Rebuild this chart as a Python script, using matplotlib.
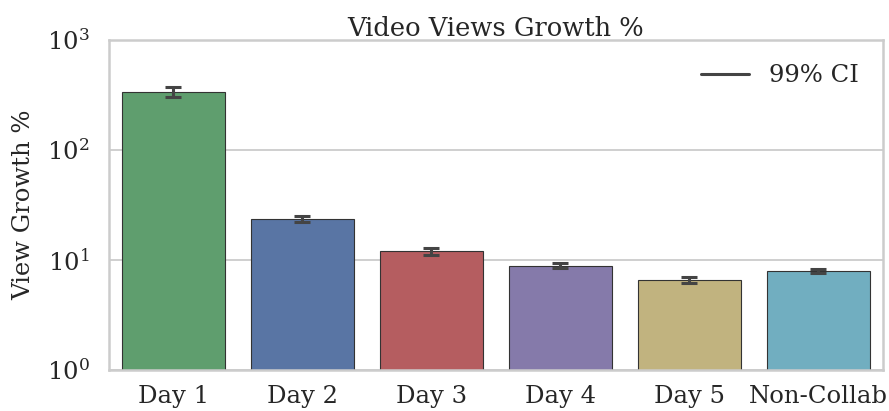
import matplotlib
matplotlib.use("Agg")
import matplotlib.pyplot as plt
import seaborn as sns
import numpy as np
from matplotlib.lines import Line2D

categories = ["Day 1", "Day 2", "Day 3", "Day 4", "Day 5", "Non-Collab"]
growth = [337, 23.5, 12.0, 8.9, 6.6, 7.9]
ci_low = [303, 22.1, 11.2, 8.4, 6.2, 7.6]
ci_high = [374, 25.1, 12.8, 9.4, 7.0, 8.2]
base_colors = ["#55A868", "#4C72B0", "#C44E52", "#8172B2", "#CCB974", "#64B5CD"]

sns.set_style("whitegrid")
plt.rcParams["font.family"] = ["DejaVu Serif"]
plt.rcParams["mathtext.fontset"] = "dejavuserif"

colors = [sns.desaturate(c, 0.75) for c in base_colors]

fig = plt.figure(figsize=(8.89, 4.11), dpi=100)
ax = fig.add_axes([0.1226, 0.0998, 0.8705, 0.8029])

x = np.arange(len(categories))
ax.bar(x, growth, width=0.8, color=colors, edgecolor="#333333", linewidth=0.8, zorder=2)
yerr = [np.array(growth) - np.array(ci_low), np.array(ci_high) - np.array(growth)]
ax.errorbar(x, growth, yerr=yerr, fmt="none", ecolor="#444444", elinewidth=2.2,
            capsize=5.5, capthick=2.2, zorder=3)

ax.set_yscale("log")
ax.set_ylim(1, 1000)
ax.set_xlim(-0.5, 5.5)
ax.yaxis.set_minor_locator(matplotlib.ticker.NullLocator())
ax.set_xticks(x)
ax.set_xticklabels(categories)
ax.tick_params(axis="both", labelsize=17.5, colors="#262626", length=0)
ax.tick_params(axis="x", pad=11)
ax.tick_params(axis="y", pad=14)
ax.grid(axis="x", visible=False)
ax.grid(axis="y", color="#cccccc", linewidth=1.3)
for s in ax.spines.values():
    s.set_color("#cccccc")
    s.set_linewidth(1.8)
ax.set_ylabel("View Growth %", fontsize=17.5, color="#262626", labelpad=8)
ax.set_title("Video Views Growth %", fontsize=18.5, color="#262626", pad=3)

handle = Line2D([0], [0], color="#444444", linewidth=2.2)
ax.legend([handle], ["99% CI"], loc="upper right", frameon=False, fontsize=17.5,
          handlelength=2.0, borderaxespad=0.6)

fig.savefig("out.png", dpi=100)
